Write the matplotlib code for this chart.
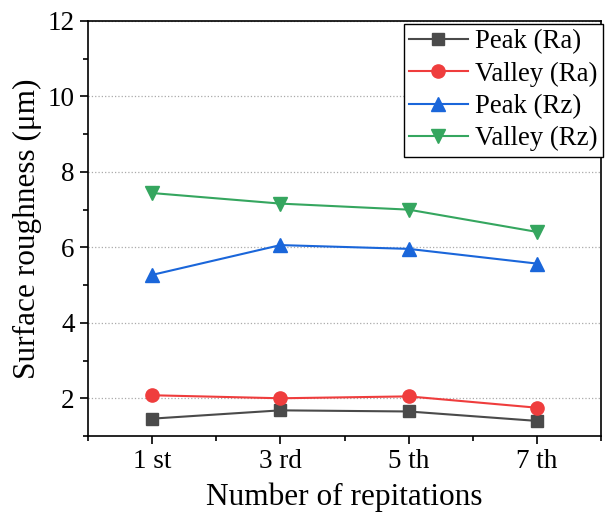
import matplotlib.pyplot as plt
from matplotlib.ticker import MultipleLocator

plt.rcParams['font.family'] = 'Liberation Serif'

labels = ['1 st', '3 rd', '5 th', '7 th']
xpos = [1, 3, 5, 7]
peak_ra = [1.46, 1.68, 1.65, 1.40]
valley_ra = [2.08, 2.00, 2.05, 1.75]
peak_rz = [5.27, 6.06, 5.96, 5.57]
valley_rz = [7.44, 7.16, 7.00, 6.41]

fig = plt.figure(figsize=(6.08, 5.15), dpi=100)
ax = fig.add_axes([88/608, 1 - 436/515, (601-88)/608, (436-21)/515])

ax.plot(xpos, peak_ra, color='#4a4a4a', marker='s', markersize=8, lw=1.5, label='Peak (Ra)')
ax.plot(xpos, valley_ra, color='#ef3d3d', marker='o', markersize=9.5, lw=1.5, label='Valley (Ra)')
ax.plot(xpos, peak_rz, color='#1a66da', marker='^', markersize=9.5, lw=1.5, label='Peak (Rz)')
ax.plot(xpos, valley_rz, color='#35a65f', marker='v', markersize=9.5, lw=1.5, label='Valley (Rz)')

ax.set_xlim(0, 8)
ax.set_ylim(1, 12)
ax.set_xticks(xpos)
ax.set_xticklabels(labels)
ax.xaxis.set_minor_locator(MultipleLocator(2))
ax.set_yticks([2, 4, 6, 8, 10, 12])
ax.yaxis.set_minor_locator(MultipleLocator(1))
ax.tick_params(which='major', direction='out', length=6, width=1.2, labelsize=19.5)
ax.tick_params(which='minor', direction='out', length=3.5, width=1.2)
ax.grid(axis='y', which='major', linestyle=':', color='#aaaaaa', lw=0.9)
for s in ax.spines.values():
    s.set_linewidth(1.2)

ax.set_xlabel('Number of repitations', fontsize=22.5, labelpad=6)
ax.set_ylabel('Surface roughness (μm)', fontsize=22.5)

leg = ax.legend(loc='upper right', bbox_to_anchor=(1.003, 0.993), fontsize=19.3,
                frameon=True, fancybox=False, edgecolor='black', framealpha=1,
                borderpad=0.2, labelspacing=0.27, handlelength=2.2,
                handletextpad=0.25, borderaxespad=0)
leg.get_frame().set_linewidth(1.0)

fig.savefig('out.png', dpi=100)
